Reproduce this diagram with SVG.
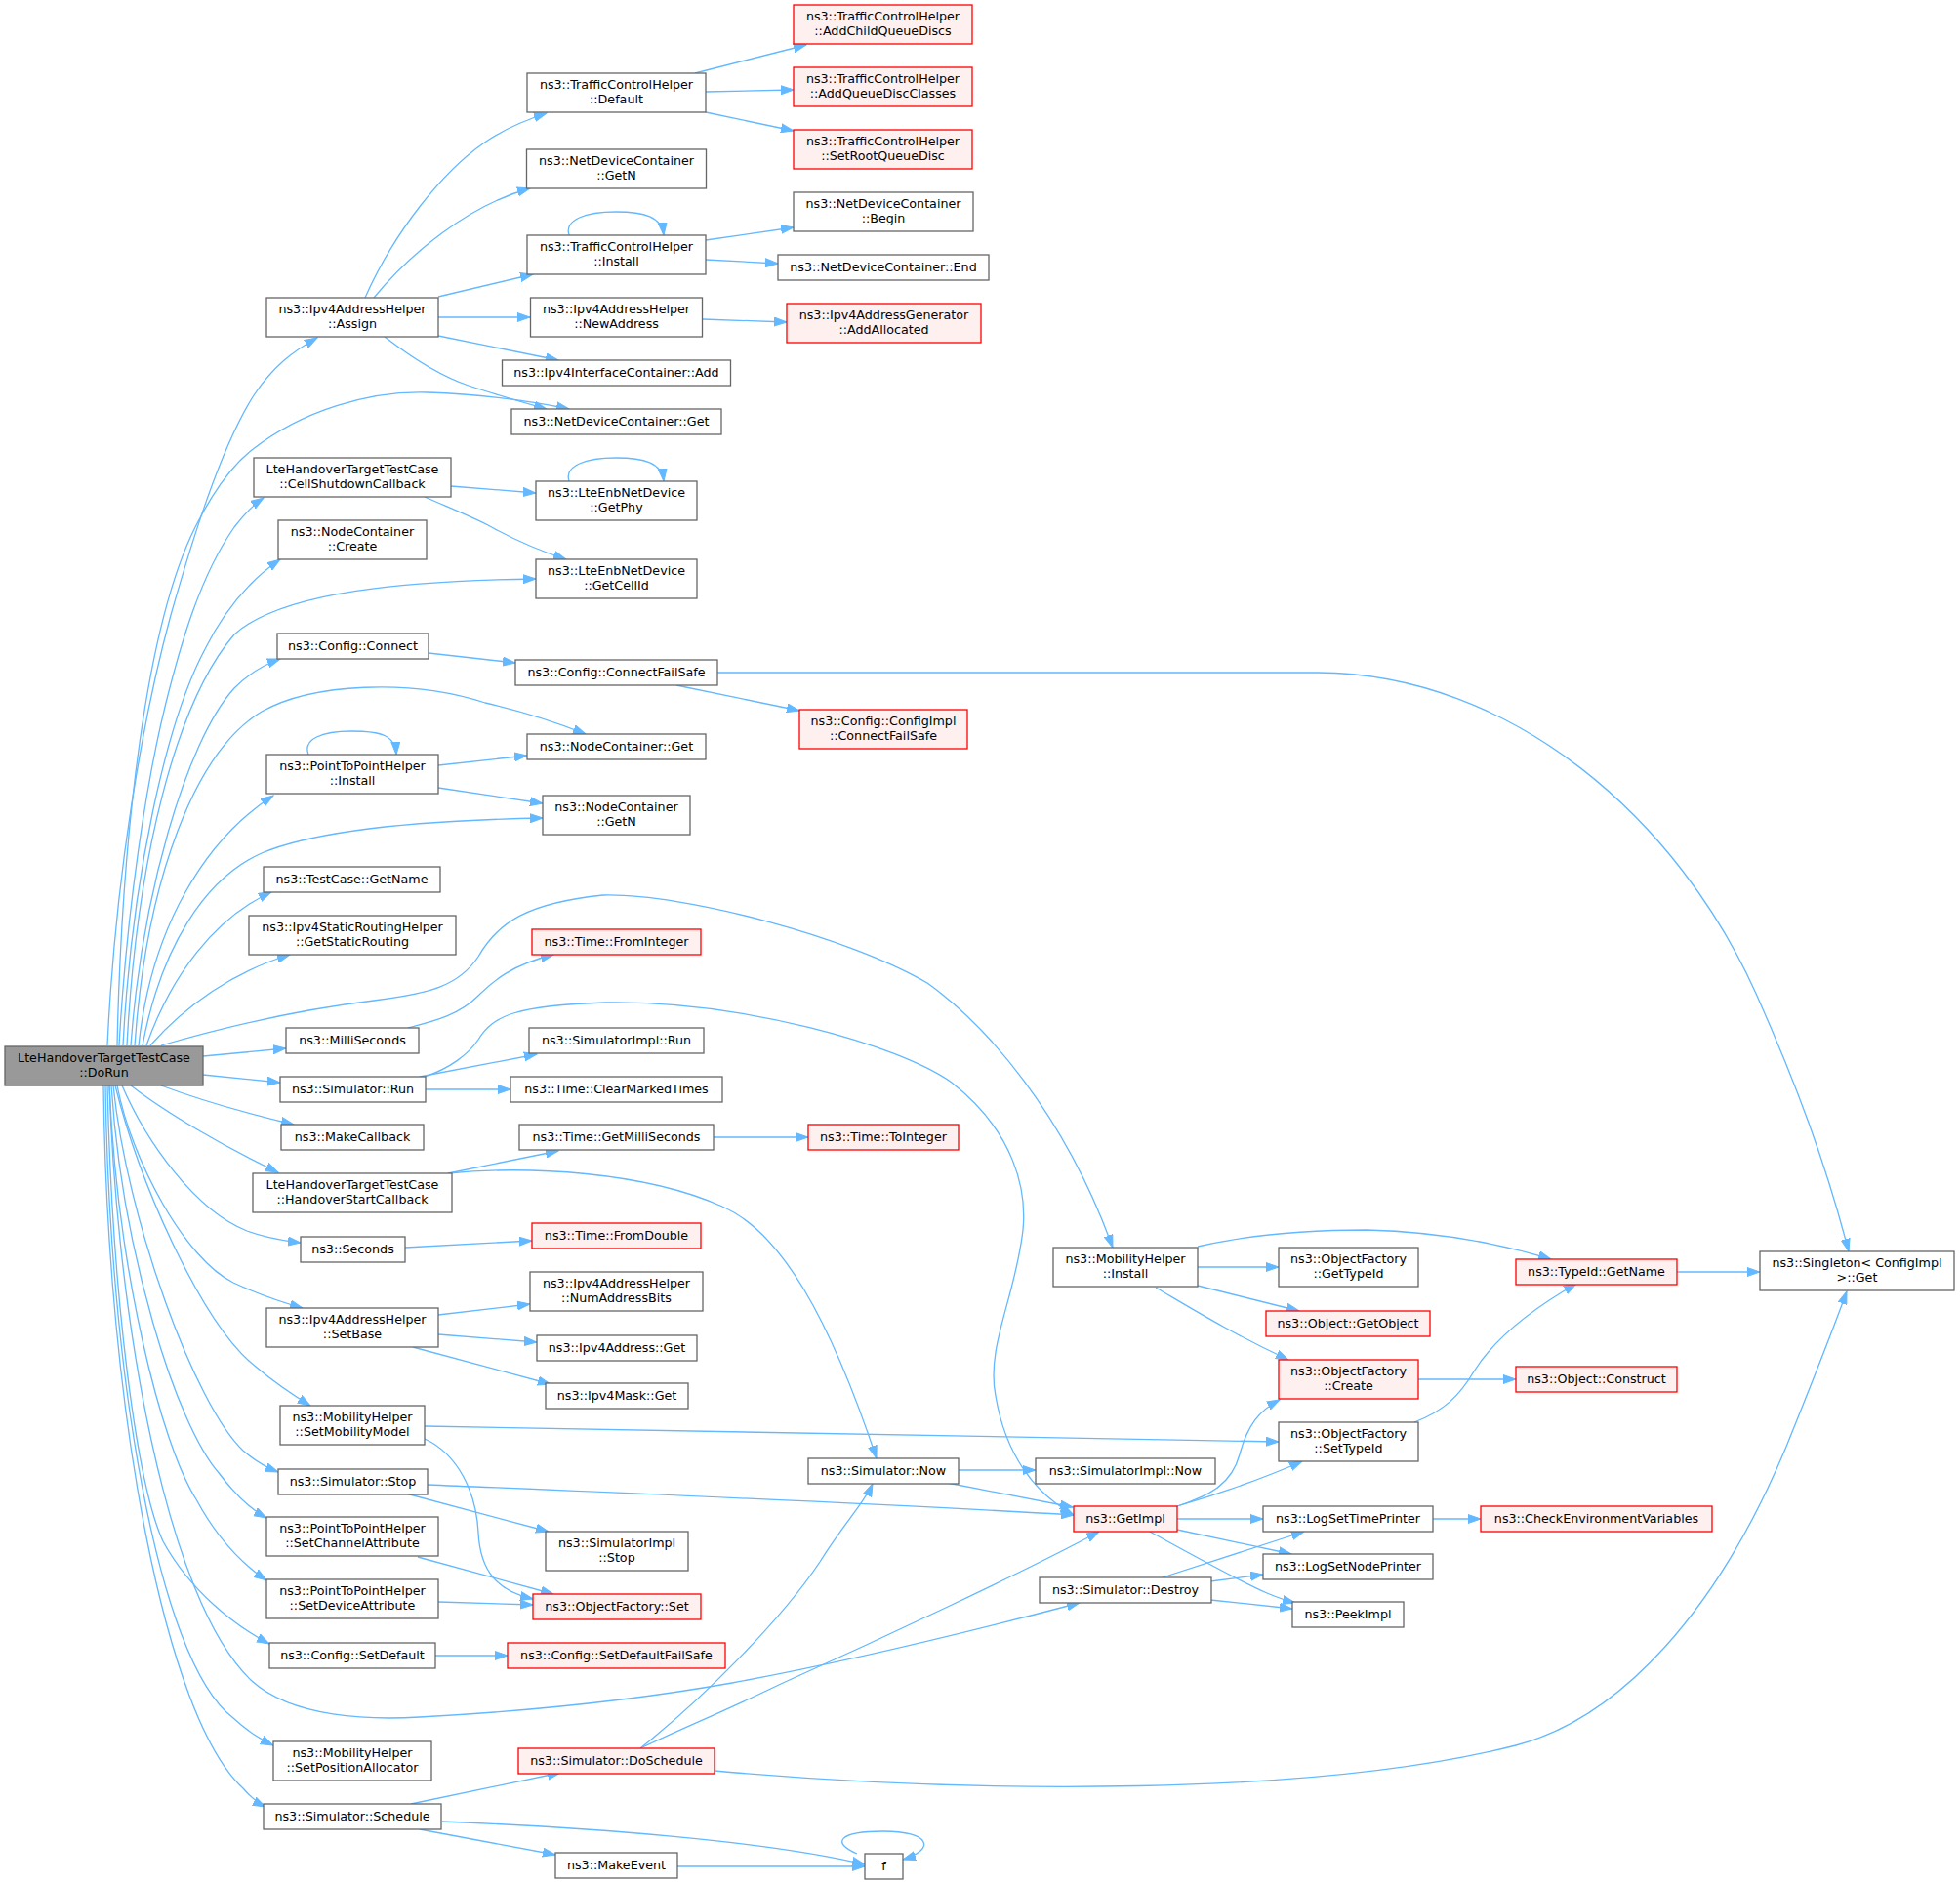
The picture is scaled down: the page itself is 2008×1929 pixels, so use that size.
<svg xmlns="http://www.w3.org/2000/svg" width="2008" height="1929" viewBox="0 0 2008 1929">
<style>
.n rect{fill:#ffffff;stroke:#666666;stroke-width:1.3}
.r rect{fill:#fff0f0;stroke:#ff0000;stroke-width:1.3}
.root rect{fill:#999999;stroke:#666666;stroke-width:1.3}
text{font-family:"DejaVu Sans","Liberation Sans",sans-serif;font-size:12.7px;text-anchor:middle;fill:#000000}
#edges path{fill:none;stroke:#63b8ff;stroke-width:1.3;marker-end:url(#a)}
</style>
<defs>
<marker id="a" markerWidth="14" markerHeight="10" refX="13" refY="5" orient="auto" markerUnits="userSpaceOnUse"><path d="M0,0.5 L13,5 L0,9.5 z" fill="#63b8ff" stroke="#63b8ff" stroke-width="1"/></marker>
</defs>
<rect width="2008" height="1929" fill="#ffffff"/>
<g id="edges">
<path d="M110,1071 C118,900 145,740 175,630 C195,560 225,460 260,405 C280,375 300,360 325,346"/>
<path d="M120,1071 C125,850 150,640 200,540 C220,500 240,475 258,461 C310,420 380,400 438,402 C490,404 540,410 583,419"/>
<path d="M122,1071 C130,930 150,800 170,720 C185,660 205,590 240,540 C250,527 258,518 270,510"/>
<path d="M126,1071 C135,900 170,740 210,665 C230,625 255,595 287,573"/>
<path d="M130,1071 C140,880 180,720 240,650 C290,605 420,595 549,593"/>
<path d="M134,1071 C145,920 190,760 240,705 C255,690 270,681 287,675"/>
<path d="M138,1071 C150,900 200,770 268,729 C320,700 420,695 497,720 C540,730 570,740 600,752"/>
<path d="M142,1071 C155,950 210,860 280,815"/>
<path d="M146,1071 C165,970 210,900 268,874 C330,848 450,840 556,838"/>
<path d="M150,1071 C175,1000 220,940 278,914"/>
<path d="M154,1071 C190,1030 240,995 297,978"/>
<path d="M165,1071 C220,1055 300,1035 383,1025 C440,1018 470,1010 490,980 C510,945 540,925 618,917 C700,915 870,960 950,1007 C1010,1050 1090,1140 1140,1278"/>
<path d="M208,1082 L293,1074"/>
<path d="M208,1101 L287,1109"/>
<path d="M165,1112 C200,1125 250,1140 301,1152"/>
<path d="M134,1112 C170,1140 230,1175 285,1201"/>
<path d="M125,1112 C150,1170 200,1240 253,1261 C272,1268 290,1271 308,1273"/>
<path d="M120,1112 C135,1190 190,1290 239,1314 C265,1326 285,1333 310,1340"/>
<path d="M118,1112 C145,1220 210,1360 262,1400 C282,1417 300,1429 318,1440"/>
<path d="M116,1112 C130,1250 200,1440 249,1486 C262,1497 272,1503 285,1508"/>
<path d="M114,1112 C125,1280 180,1460 225,1510 C240,1530 255,1545 273,1555"/>
<path d="M112,1112 C120,1300 165,1480 201,1536 C222,1575 245,1600 273,1619"/>
<path d="M110,1112 C115,1330 140,1520 167,1579 C195,1630 240,1665 276,1684"/>
<path d="M112,1112 C120,1350 170,1640 258,1722 C300,1760 380,1762 430,1759 C560,1752 660,1740 750,1724 C870,1702 1000,1670 1106,1642"/>
<path d="M108,1112 C112,1400 160,1700 239,1760 C252,1772 265,1781 280,1788"/>
<path d="M106,1112 C110,1450 170,1760 249,1832 C256,1840 262,1846 272,1851"/>
<path d="M374,305 C405,235 455,175 495,147 C515,133 535,124 560,116"/>
<path d="M383,305 C420,260 480,210 543,193"/>
<path d="M449,304 L546,281"/>
<path d="M449,325 L543,325"/>
<path d="M449,344 L572,369"/>
<path d="M394,345 C420,365 450,385 480,395 C510,405 535,412 560,419"/>
<path d="M712,75 L826,46"/>
<path d="M723,94 L813,92"/>
<path d="M723,115 L813,134"/>
<path d="M583,241 C578,225 600,217 631,217 C660,217 678,222 680,241"/>
<path d="M723,246 L813,233"/>
<path d="M723,266 L797,270"/>
<path d="M720,327 L806,330"/>
<path d="M462,498 L549,505"/>
<path d="M435,509 C460,520 480,528 500,538 C525,552 555,565 580,573"/>
<path d="M583,493 C578,477 600,469 631,469 C660,469 678,474 680,493"/>
<path d="M439,669 L528,679"/>
<path d="M693,702 L819,728"/>
<path d="M735,689 L1350,689 C1550,690 1720,840 1800,1020 C1840,1110 1870,1190 1894,1282"/>
<path d="M316,773 C310,757 330,749 360,749 C390,749 405,753 406,773"/>
<path d="M449,784 L540,774"/>
<path d="M449,807 L556,823"/>
<path d="M418,1053 C445,1046 470,1040 490,1020 C505,1005 525,988 567,978"/>
<path d="M430,1103 L550,1080"/>
<path d="M436,1116 L523,1116"/>
<path d="M435,1103 C460,1095 480,1080 490,1065 C505,1040 530,1030 620,1027 C760,1025 920,1070 975,1109 C1040,1160 1052,1220 1048,1260 C1040,1330 1010,1380 1020,1430 C1030,1490 1060,1530 1099,1551"/>
<path d="M731,1165 L828,1165"/>
<path d="M459,1202 L572,1179"/>
<path d="M459,1202 C540,1194 660,1200 740,1236 C800,1262 850,1350 898,1494"/>
<path d="M415,1278 L545,1271"/>
<path d="M449,1347 L543,1336"/>
<path d="M449,1367 L550,1375"/>
<path d="M423,1380 L564,1418"/>
<path d="M435,1461 C700,1465 1000,1470 1310,1477"/>
<path d="M435,1474 C470,1490 488,1530 490,1570 C492,1610 510,1630 546,1638"/>
<path d="M438,1521 C700,1532 900,1540 1100,1552"/>
<path d="M416,1530 L562,1569"/>
<path d="M428,1595 L567,1633"/>
<path d="M449,1641 L546,1644"/>
<path d="M446,1696 L520,1696"/>
<path d="M421,1848 L574,1816"/>
<path d="M453,1866 C600,1872 780,1885 886,1910"/>
<path d="M430,1874 L569,1900"/>
<path d="M694,1912 L886,1912"/>
<path d="M878,1899 C852,1888 858,1876 905,1876 C952,1876 960,1894 925,1905"/>
<path d="M656,1791 C720,1740 800,1660 840,1600 C865,1560 885,1540 894,1520"/>
<path d="M656,1791 C700,1770 740,1754 800,1725 C900,1680 1050,1610 1126,1569"/>
<path d="M732,1814 C1000,1838 1350,1840 1553,1788 C1660,1760 1760,1650 1830,1482 C1855,1420 1875,1370 1892,1323"/>
<path d="M982,1506 L1061,1506"/>
<path d="M970,1519 L1099,1544"/>
<path d="M1227,1277 C1280,1265 1340,1260 1400,1260 C1480,1262 1540,1275 1589,1290"/>
<path d="M1227,1298 L1310,1298"/>
<path d="M1227,1317 L1331,1343"/>
<path d="M1184,1319 C1220,1340 1260,1365 1320,1393"/>
<path d="M1453,1413 L1553,1413"/>
<path d="M1449,1457 C1480,1445 1495,1430 1510,1405 C1535,1365 1580,1335 1615,1315"/>
<path d="M1718,1303 L1803,1303"/>
<path d="M1206,1543 C1240,1532 1262,1520 1270,1490 C1278,1460 1290,1445 1311,1434"/>
<path d="M1206,1543 C1250,1530 1300,1512 1334,1497"/>
<path d="M1206,1556 L1294,1556"/>
<path d="M1206,1567 L1323,1592"/>
<path d="M1178,1569 C1220,1592 1270,1620 1298,1632 C1310,1637 1318,1640 1327,1642"/>
<path d="M1191,1616 L1336,1569"/>
<path d="M1240,1620 L1294,1613"/>
<path d="M1240,1639 L1324,1648"/>
<path d="M1468,1556 L1517,1556"/>
</g>
<g id="doRun" class="root"><rect x="5" y="1072" width="203" height="40"/><text x="106.5" y="1088">LteHandoverTargetTestCase</text><text x="106.5" y="1103">::DoRun</text></g>
<g id="assign" class="n"><rect x="273" y="305" width="176" height="40"/><text x="361" y="321">ns3::Ipv4AddressHelper</text><text x="361" y="336">::Assign</text></g>
<g id="cellShutdown" class="n"><rect x="260" y="469" width="202" height="40"/><text x="361" y="485">LteHandoverTargetTestCase</text><text x="361" y="500">::CellShutdownCallback</text></g>
<g id="ncCreate" class="n"><rect x="285" y="533" width="152" height="40"/><text x="361" y="549">ns3::NodeContainer</text><text x="361" y="564">::Create</text></g>
<g id="cfgConnect" class="n"><rect x="284" y="649" width="155" height="26"/><text x="361.5" y="666">ns3::Config::Connect</text></g>
<g id="p2pInstall" class="n"><rect x="273" y="773" width="176" height="40"/><text x="361" y="789">ns3::PointToPointHelper</text><text x="361" y="804">::Install</text></g>
<g id="tcGetName" class="n"><rect x="270" y="888" width="181" height="26"/><text x="360.5" y="905">ns3::TestCase::GetName</text></g>
<g id="getStaticRouting" class="n"><rect x="255" y="938" width="212" height="40"/><text x="361" y="954">ns3::Ipv4StaticRoutingHelper</text><text x="361" y="969">::GetStaticRouting</text></g>
<g id="milliSeconds" class="n"><rect x="293" y="1053" width="136" height="26"/><text x="361" y="1070">ns3::MilliSeconds</text></g>
<g id="simRun" class="n"><rect x="287" y="1103" width="149" height="26"/><text x="361.5" y="1120">ns3::Simulator::Run</text></g>
<g id="makeCallback" class="n"><rect x="288" y="1152" width="146" height="26"/><text x="361" y="1169">ns3::MakeCallback</text></g>
<g id="handoverStart" class="n"><rect x="259" y="1202" width="204" height="40"/><text x="361" y="1218">LteHandoverTargetTestCase</text><text x="361" y="1233">::HandoverStartCallback</text></g>
<g id="seconds" class="n"><rect x="308" y="1267" width="107" height="26"/><text x="361.5" y="1284">ns3::Seconds</text></g>
<g id="setBase" class="n"><rect x="273" y="1340" width="176" height="40"/><text x="361" y="1356">ns3::Ipv4AddressHelper</text><text x="361" y="1371">::SetBase</text></g>
<g id="setMobilityModel" class="n"><rect x="287" y="1440" width="148" height="40"/><text x="361" y="1456">ns3::MobilityHelper</text><text x="361" y="1471">::SetMobilityModel</text></g>
<g id="simStop" class="n"><rect x="285" y="1505" width="153" height="26"/><text x="361.5" y="1522">ns3::Simulator::Stop</text></g>
<g id="setChannelAttr" class="n"><rect x="273" y="1554" width="176" height="40"/><text x="361" y="1570">ns3::PointToPointHelper</text><text x="361" y="1585">::SetChannelAttribute</text></g>
<g id="setDeviceAttr" class="n"><rect x="273" y="1618" width="176" height="40"/><text x="361" y="1634">ns3::PointToPointHelper</text><text x="361" y="1649">::SetDeviceAttribute</text></g>
<g id="cfgSetDefault" class="n"><rect x="276" y="1683" width="170" height="26"/><text x="361" y="1700">ns3::Config::SetDefault</text></g>
<g id="setPosAlloc" class="n"><rect x="280" y="1784" width="162" height="40"/><text x="361" y="1800">ns3::MobilityHelper</text><text x="361" y="1815">::SetPositionAllocator</text></g>
<g id="simSchedule" class="n"><rect x="270" y="1848" width="182" height="26"/><text x="361" y="1865">ns3::Simulator::Schedule</text></g>
<g id="tchDefault" class="n"><rect x="540" y="75" width="183" height="40"/><text x="631.5" y="91">ns3::TrafficControlHelper</text><text x="631.5" y="106">::Default</text></g>
<g id="ndcGetN" class="n"><rect x="539.5" y="153" width="184" height="40"/><text x="631.5" y="169">ns3::NetDeviceContainer</text><text x="631.5" y="184">::GetN</text></g>
<g id="tchInstall" class="n"><rect x="540" y="241" width="183" height="40"/><text x="631.5" y="257">ns3::TrafficControlHelper</text><text x="631.5" y="272">::Install</text></g>
<g id="newAddress" class="n"><rect x="543.5" y="305" width="176" height="40"/><text x="631.5" y="321">ns3::Ipv4AddressHelper</text><text x="631.5" y="336">::NewAddress</text></g>
<g id="ifcAdd" class="n"><rect x="514.5" y="369" width="234" height="26"/><text x="631.5" y="386">ns3::Ipv4InterfaceContainer::Add</text></g>
<g id="ndcGet" class="n"><rect x="524" y="419" width="215" height="26"/><text x="631.5" y="436">ns3::NetDeviceContainer::Get</text></g>
<g id="getPhy" class="n"><rect x="549" y="493" width="165" height="40"/><text x="631.5" y="509">ns3::LteEnbNetDevice</text><text x="631.5" y="524">::GetPhy</text></g>
<g id="getCellId" class="n"><rect x="549" y="573" width="165" height="40"/><text x="631.5" y="589">ns3::LteEnbNetDevice</text><text x="631.5" y="604">::GetCellId</text></g>
<g id="connectFailSafe" class="n"><rect x="528" y="676" width="207" height="26"/><text x="631.5" y="693">ns3::Config::ConnectFailSafe</text></g>
<g id="ncGet" class="n"><rect x="540" y="752" width="183" height="26"/><text x="631.5" y="769">ns3::NodeContainer::Get</text></g>
<g id="ncGetN" class="n"><rect x="556" y="815" width="151" height="40"/><text x="631.5" y="831">ns3::NodeContainer</text><text x="631.5" y="846">::GetN</text></g>
<g id="fromInteger" class="r"><rect x="545" y="952" width="173" height="26"/><text x="631.5" y="969">ns3::Time::FromInteger</text></g>
<g id="simImplRun" class="n"><rect x="542" y="1053" width="179" height="26"/><text x="631.5" y="1070">ns3::SimulatorImpl::Run</text></g>
<g id="clearMarked" class="n"><rect x="523" y="1103" width="217" height="26"/><text x="631.5" y="1120">ns3::Time::ClearMarkedTimes</text></g>
<g id="getMilli" class="n"><rect x="532" y="1152" width="199" height="26"/><text x="631.5" y="1169">ns3::Time::GetMilliSeconds</text></g>
<g id="fromDouble" class="r"><rect x="545" y="1253" width="173" height="26"/><text x="631.5" y="1270">ns3::Time::FromDouble</text></g>
<g id="numAddrBits" class="n"><rect x="543" y="1303" width="177" height="40"/><text x="631.5" y="1319">ns3::Ipv4AddressHelper</text><text x="631.5" y="1334">::NumAddressBits</text></g>
<g id="ipv4AddrGet" class="n"><rect x="550" y="1368" width="164" height="26"/><text x="632" y="1385">ns3::Ipv4Address::Get</text></g>
<g id="ipv4MaskGet" class="n"><rect x="559" y="1417" width="146" height="26"/><text x="632" y="1434">ns3::Ipv4Mask::Get</text></g>
<g id="simImplStop" class="n"><rect x="559" y="1569" width="146" height="40"/><text x="632" y="1585">ns3::SimulatorImpl</text><text x="632" y="1600">::Stop</text></g>
<g id="ofSet" class="r"><rect x="546" y="1633" width="172" height="26"/><text x="632" y="1650">ns3::ObjectFactory::Set</text></g>
<g id="setDefaultFailSafe" class="r"><rect x="520" y="1683" width="223" height="26"/><text x="631.5" y="1700">ns3::Config::SetDefaultFailSafe</text></g>
<g id="doSchedule" class="r"><rect x="531" y="1791" width="201" height="26"/><text x="631.5" y="1808">ns3::Simulator::DoSchedule</text></g>
<g id="makeEvent" class="n"><rect x="569" y="1898" width="125" height="26"/><text x="631.5" y="1915">ns3::MakeEvent</text></g>
<g id="addChild" class="r"><rect x="813" y="5" width="183" height="40"/><text x="904.5" y="21">ns3::TrafficControlHelper</text><text x="904.5" y="36">::AddChildQueueDiscs</text></g>
<g id="addQDC" class="r"><rect x="813" y="69" width="183" height="40"/><text x="904.5" y="85">ns3::TrafficControlHelper</text><text x="904.5" y="100">::AddQueueDiscClasses</text></g>
<g id="setRoot" class="r"><rect x="813" y="133" width="183" height="40"/><text x="904.5" y="149">ns3::TrafficControlHelper</text><text x="904.5" y="164">::SetRootQueueDisc</text></g>
<g id="ndcBegin" class="n"><rect x="813" y="197" width="184" height="40"/><text x="905" y="213">ns3::NetDeviceContainer</text><text x="905" y="228">::Begin</text></g>
<g id="ndcEnd" class="n"><rect x="797" y="261" width="216" height="26"/><text x="905" y="278">ns3::NetDeviceContainer::End</text></g>
<g id="addAllocated" class="r"><rect x="806" y="311" width="199" height="40"/><text x="905.5" y="327">ns3::Ipv4AddressGenerator</text><text x="905.5" y="342">::AddAllocated</text></g>
<g id="configImplCFS" class="r"><rect x="819" y="727" width="172" height="40"/><text x="905" y="743">ns3::Config::ConfigImpl</text><text x="905" y="758">::ConnectFailSafe</text></g>
<g id="toInteger" class="r"><rect x="828" y="1152" width="154" height="26"/><text x="905" y="1169">ns3::Time::ToInteger</text></g>
<g id="simNow" class="n"><rect x="828" y="1494" width="154" height="26"/><text x="905" y="1511">ns3::Simulator::Now</text></g>
<g id="f" class="n"><rect x="886" y="1899" width="39" height="26"/><text x="905.5" y="1916">f</text></g>
<g id="mobInstall" class="n"><rect x="1079" y="1278" width="148" height="40"/><text x="1153" y="1294">ns3::MobilityHelper</text><text x="1153" y="1309">::Install</text></g>
<g id="simImplNow" class="n"><rect x="1061" y="1494" width="184" height="26"/><text x="1153" y="1511">ns3::SimulatorImpl::Now</text></g>
<g id="getImpl" class="r"><rect x="1100" y="1543" width="106" height="26"/><text x="1153" y="1560">ns3::GetImpl</text></g>
<g id="simDestroy" class="n"><rect x="1065" y="1616" width="176" height="26"/><text x="1153" y="1633">ns3::Simulator::Destroy</text></g>
<g id="ofGetTypeId" class="n"><rect x="1310" y="1278" width="143" height="40"/><text x="1381.5" y="1294">ns3::ObjectFactory</text><text x="1381.5" y="1309">::GetTypeId</text></g>
<g id="objGetObject" class="r"><rect x="1297" y="1343" width="168" height="26"/><text x="1381" y="1360">ns3::Object::GetObject</text></g>
<g id="ofCreate" class="r"><rect x="1310" y="1393" width="143" height="40"/><text x="1381.5" y="1409">ns3::ObjectFactory</text><text x="1381.5" y="1424">::Create</text></g>
<g id="ofSetTypeId" class="n"><rect x="1310" y="1457" width="143" height="40"/><text x="1381.5" y="1473">ns3::ObjectFactory</text><text x="1381.5" y="1488">::SetTypeId</text></g>
<g id="logSetTime" class="n"><rect x="1294" y="1543" width="174" height="26"/><text x="1381" y="1560">ns3::LogSetTimePrinter</text></g>
<g id="logSetNode" class="n"><rect x="1294" y="1592" width="174" height="26"/><text x="1381" y="1609">ns3::LogSetNodePrinter</text></g>
<g id="peekImpl" class="n"><rect x="1324" y="1641" width="114" height="26"/><text x="1381" y="1658">ns3::PeekImpl</text></g>
<g id="typeIdGetName" class="r"><rect x="1553" y="1290" width="165" height="26"/><text x="1635.5" y="1307">ns3::TypeId::GetName</text></g>
<g id="objConstruct" class="r"><rect x="1553" y="1400" width="165" height="26"/><text x="1635.5" y="1417">ns3::Object::Construct</text></g>
<g id="checkEnv" class="r"><rect x="1517" y="1543" width="237" height="26"/><text x="1635.5" y="1560">ns3::CheckEnvironmentVariables</text></g>
<g id="singleton" class="n"><rect x="1803" y="1282" width="199" height="40"/><text x="1902.5" y="1298">ns3::Singleton&lt; ConfigImpl</text><text x="1902.5" y="1313">&gt;::Get</text></g>
</svg>
